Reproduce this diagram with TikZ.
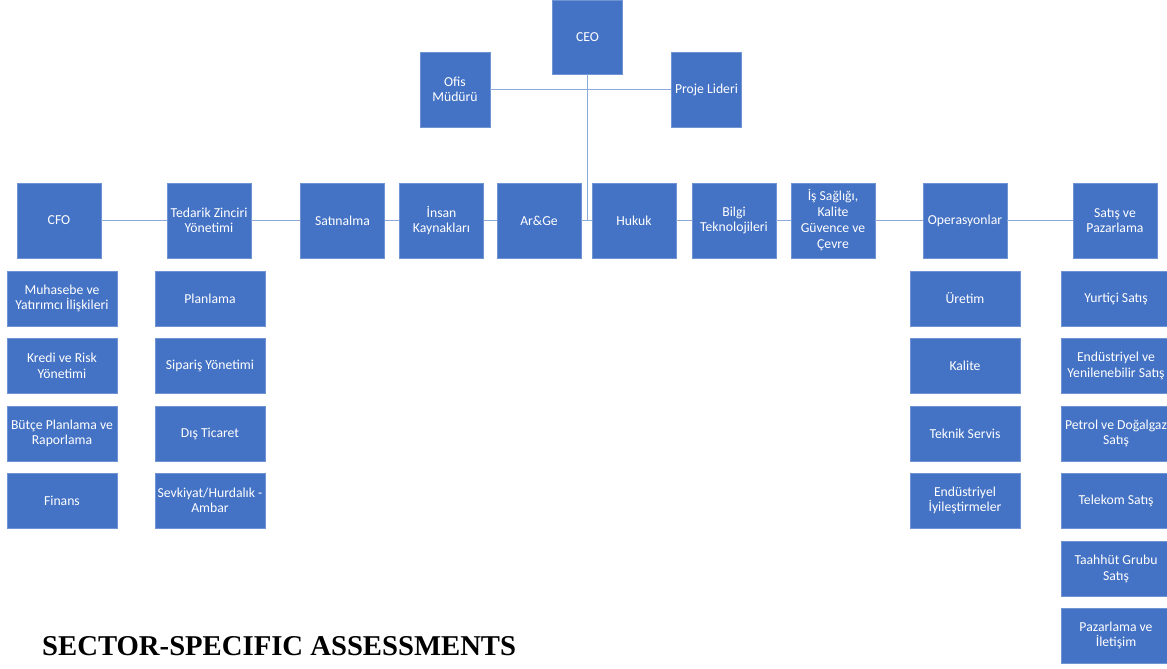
\documentclass[tikz,border=0pt]{standalone}
\usepackage{fontspec}
\setmainfont{Carlito}
\newfontfamily\titlefont{Liberation Serif}
\definecolor{boxblue}{HTML}{4472C4}
\definecolor{boxedge}{HTML}{6F93D3}
\definecolor{linkblue}{HTML}{8EAADB}
\begin{document}
\begin{tikzpicture}[x=1pt,y=-1pt,
  box/.style={rectangle,fill=boxblue,draw=boxedge,line width=0.6pt,inner sep=0pt,
    text=white,align=center,font=\fontsize{13.7}{15.5}\selectfont},
  top/.style={box,minimum width=70pt,minimum height=75pt},
  unit/.style={box,minimum width=84pt,minimum height=75pt},
  sub/.style={box,minimum width=110pt,minimum height=55pt},
  link/.style={draw=linkblue,line width=1pt}]
\useasboundingbox (0,0) rectangle (1167,669);
% connectors first (behind boxes)
\coordinate (hub) at (587.5,220.5);
% top level
\node[top,minimum height=74pt] (ceo) at (587.5,37) {CEO};
\node[top] (ofis) at (455,89.5) {Ofis\\Müdürü};
\node[top] (proje) at (706.5,89.5) {Proje Lideri};
% second row
\node[unit] (cfo) at (59,220.5) {CFO};
\node[unit] (ted) at (209,220.5) {Tedarik Zinciri\\Yönetimi};
\node[unit] (sat) at (342.5,220.5) {Satınalma};
\node[unit] (ik) at (441.5,220.5) {İnsan\\Kaynakları};
\node[unit] (arge) at (539,220.5) {Ar\&Ge};
\node[unit] (huk) at (634,220.5) {Hukuk};
\node[unit] (bt) at (734,220.5) {Bilgi\\Teknolojileri};
\node[unit,font=\fontsize{13.7}{16}\selectfont] (isg) at (833,220.5) {İş Sağlığı,\\Kalite\\Güvence ve\\Çevre};
\node[unit] (ops) at (965,220.5) {Operasyonlar};
\node[unit] (sp) at (1115,220.5) {Satış ve\\Pazarlama};
% connectors
\draw[link] (ofis.east) -- (proje.west);
\draw[link] (ceo.south) -- (hub);
\draw[link] (cfo.east) -- (ted.west);
\draw[link] (ted.east) -- (sat.west);
\draw[link] (sat.east) -- (ik.west);
\draw[link] (ik.east) -- (arge.west);
\draw[link] (arge.east) -- (huk.west);
\draw[link] (huk.east) -- (bt.west);
\draw[link] (bt.east) -- (isg.west);
\draw[link] (isg.east) -- (ops.west);
\draw[link] (ops.east) -- (sp.west);
% CFO column
\node[sub] (c1) at (62,298.5) {Muhasebe ve\\Yatırımcı İlişkileri};
\node[sub] (c2) at (62,366) {Kredi ve Risk\\Yönetimi};
\node[sub] (c3) at (62,433.5) {Bütçe Planlama ve\\Raporlama};
\node[sub] (c4) at (62,500.5) {Finans};
% Tedarik column
\node[sub] (t1) at (210,298.5) {Planlama};
\node[sub] (t2) at (210,366) {Sipariş Yönetimi};
\node[sub] (t3) at (210,433.5) {Dış Ticaret};
\node[sub] (t4) at (210,500.5) {Sevkiyat/Hurdalık -\\Ambar};
% Operasyonlar column
\node[sub] (o1) at (965,298.5) {Üretim};
\node[sub] (o2) at (965,366) {Kalite};
\node[sub] (o3) at (965,433.5) {Teknik Servis};
\node[sub] (o4) at (965,500.5) {Endüstriyel\\İyileştirmeler};
% Satis column
\node[sub] (s1) at (1116,298.5) {Yurtiçi Satış};
\node[sub] (s2) at (1116,366) {Endüstriyel ve\\Yenilenebilir Satış};
\node[sub] (s3) at (1116,433.5) {Petrol ve Doğalgaz\\Satış};
\node[sub] (s4) at (1116,500.5) {Telekom Satış};
\node[sub] (s5) at (1116,569) {Taahhüt Grubu\\Satış};
\node[sub] (s6) at (1116,635.5) {Pazarlama ve\\İletişim};
% title
\node[anchor=base west,inner sep=0pt,font=\titlefont\bfseries\fontsize{28.7}{30}\selectfont] (title) at (42,655) {SECTOR-SPECIFIC ASSESSMENTS};
\end{tikzpicture}
\end{document}
